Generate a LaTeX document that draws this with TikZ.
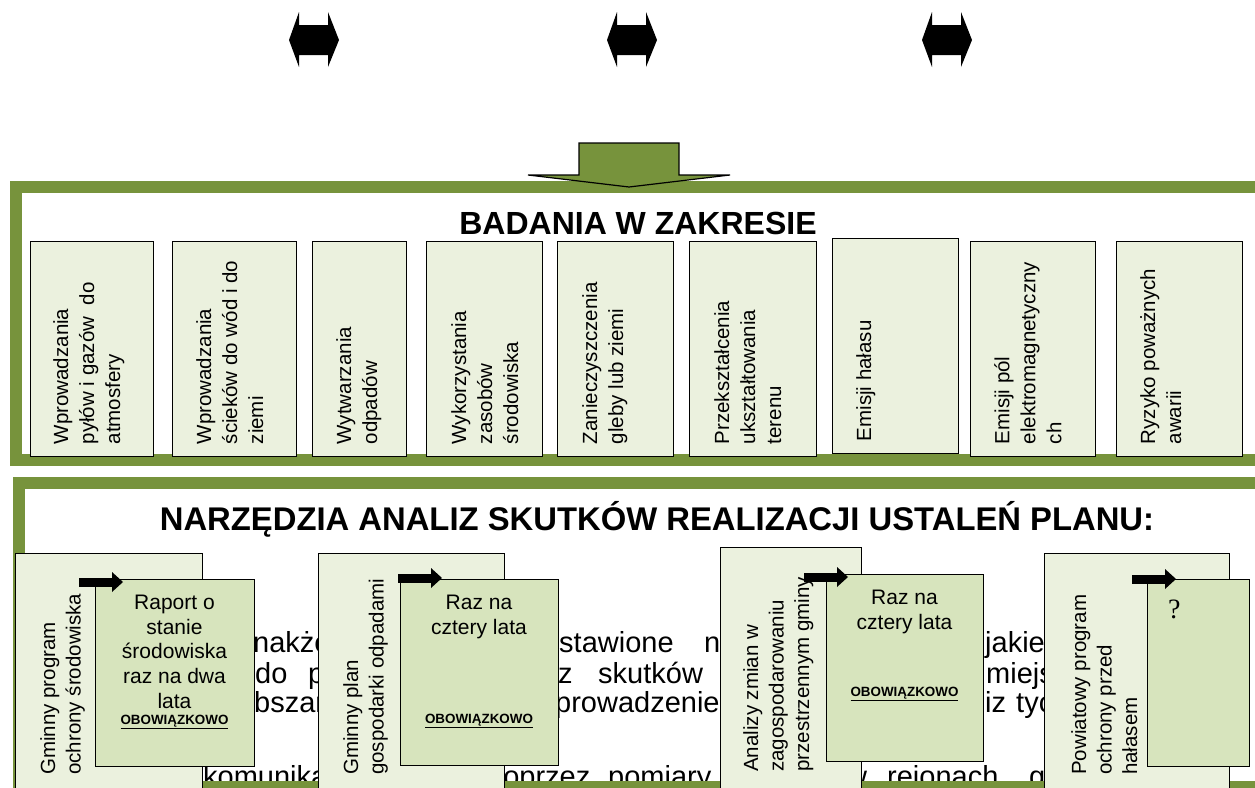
\documentclass[tikz,border=0pt]{standalone}
\usepackage{fontspec}
\setmainfont{Liberation Sans}
\newfontfamily\qfont{Liberation Serif}
\usetikzlibrary{arrows.meta,calc}

\definecolor{olivedark}{HTML}{77933C}
\definecolor{olivepale}{HTML}{EBF1DE}
\definecolor{olivemid}{HTML}{D7E4BD}

\tikzset{
  frame/.style={draw=olivedark, line width=12pt},
  topbox/.style={draw=black, fill=olivepale, line width=1.4pt, anchor=north west, inner sep=0pt},
  toptext/.style={rotate=90, anchor=north west, align=left, inner sep=0pt, font=\fontsize{20.5}{26}\selectfont},
  outerbox/.style={draw=black, fill=olivepale, line width=1.1pt, anchor=north west, inner sep=0pt},
  innerbox/.style={draw=black, fill=olivemid, line width=1.4pt, anchor=north west, inner sep=0pt},
  sidetext/.style={rotate=90, anchor=north west, align=left, inner sep=0pt, font=\fontsize{20.5}{25.5}\selectfont},
  innertext/.style={anchor=north, align=center, inner sep=0pt, font=\fontsize{21}{24.6}\selectfont},
  obowtext/.style={anchor=base, inner sep=0pt, font=\bfseries\fontsize{13.4}{15}\selectfont},
  bodytext/.style={anchor=base west, inner sep=0pt, font=\fontsize{29}{30}\selectfont},
  titletext/.style={anchor=base, inner sep=0pt, font=\bfseries\fontsize{32}{36}\selectfont},
  blockarr/.style={draw=black, line width=9pt, -{Triangle[length=11pt,width=20pt,line width=0pt]}}
}

\newcommand{\dblarrow}[1]{%
  \fill[black] (#1,40) -- ++(10,-28) -- ++(0,13) -- ++(29,0) -- ++(0,-13) -- ++(11,28)
    -- ++(-11,27) -- ++(0,-12) -- ++(-29,0) -- ++(0,12) -- cycle;}

\begin{document}
\begin{tikzpicture}[x=1pt,y=-1pt]
\useasboundingbox (0,0) rectangle (1255,787);
\clip (0,0) rectangle (1255,787);

% arrows at the top
\dblarrow{289}
\dblarrow{607}
\dblarrow{922}

% upper frame
\draw[frame] (16,186.5) rectangle (1275,459.5);
\filldraw[fill=olivedark, draw=black, line width=1.2pt] (579,143) -- (679,143) -- (679,175) -- (730,175) -- (629,187) -- (528,175) -- (579,175) -- cycle;
\node[titletext] (badania) at (638,234) {BADANIA W ZAKRESIE};

\node[topbox, minimum width=123pt, minimum height=215pt] (b1) at (30,241) {};
\node[toptext] (t1) at ([xshift=23pt,yshift=13pt]b1.south west) {Wprowadzania\\pyłów i gazów\ \ do\\atmosfery};
\node[topbox, minimum width=124pt, minimum height=215pt] (b2) at (172,241) {};
\node[toptext] (t2) at ([xshift=24pt,yshift=13pt]b2.south west) {Wprowadzania\\ścieków do wód i do\\ziemi};
\node[topbox, minimum width=94pt, minimum height=215pt] (b3) at (312,241) {};
\node[toptext] (t3) at ([xshift=24pt,yshift=13pt]b3.south west) {Wytwarzania\\odpadów};
\node[topbox, minimum width=116pt, minimum height=215pt] (b4) at (426,241) {};
\node[toptext] (t4) at ([xshift=25pt,yshift=13pt]b4.south west) {Wykorzystania\\zasobów\\środowiska};
\node[topbox, minimum width=116pt, minimum height=215pt] (b5) at (557,241) {};
\node[toptext] (t5) at ([xshift=25pt,yshift=13pt]b5.south west) {Zanieczyszczenia\\gleby lub ziemi};
\node[topbox, minimum width=127pt, minimum height=215pt] (b6) at (689,241) {};
\node[toptext] (t6) at ([xshift=25pt,yshift=13pt]b6.south west) {Przekształcenia\\ukształtowania\\terenu};
\node[topbox, minimum width=126pt, minimum height=215pt] (b7) at (832,238) {};
\node[toptext] (t7) at ([xshift=24pt,yshift=13pt]b7.south west) {Emisji hałasu};
\node[topbox, minimum width=125pt, minimum height=215pt] (b8) at (970,241) {};
\node[toptext] (t8) at ([xshift=24pt,yshift=13pt]b8.south west) {Emisji pól\\elektromagnetyczny\\ch};
\node[topbox, minimum width=126pt, minimum height=215pt] (b9) at (1116,241) {};
\node[toptext] (t9) at ([xshift=24pt,yshift=13pt]b9.south west) {Ryzyko poważnych\\awarii};

% text lying under the lower boxes
\node[bodytext] (w1) at (253,652) {nakże};
\node[bodytext] (w2) at (559,652) {stawione};
\node[bodytext] (w3) at (704,652) {n};
\node[bodytext] (w4) at (985,652) {jakie};
\node[bodytext] (w5) at (255,683) {do};
\node[bodytext] (w6) at (308,683) {p};
\node[bodytext] (w7) at (558,683) {z};
\node[bodytext] (w8) at (598,683) {skutków};
\node[bodytext] (w9) at (986,683) {miejsc};
\node[bodytext] (w10) at (254,712) {bszar};
\node[bodytext] (w11) at (555,712) {prowadzenie};
\node[bodytext] (w12) at (985,712) {iz};
\node[bodytext] (w13) at (1016,712) {tych};
\node[bodytext] (w14) at (203,786) {komunikacji};
\node[bodytext] (w15) at (487,786) {poprzez};
\node[bodytext] (w16) at (608,786) {pomiary};
\node[bodytext] (w17) at (846,786) {w};
\node[bodytext] (w18) at (887,786) {rejonach};
\node[bodytext] (w19) at (1029,786) {g};

% lower frame
\draw[frame] (19,483) rectangle (1275,787);
\node[titletext, font=\bfseries\fontsize{32.8}{36}\selectfont] (narzedzia) at (657,530) {NARZĘDZIA ANALIZ SKUTKÓW REALIZACJI USTALEŃ PLANU:};

\node[outerbox, minimum width=187pt, minimum height=250pt] (g1) at (15,553) {};
\node[sidetext] (s1) at (40,775) {Gminny program\\ochrony środowiska};
\node[innerbox, minimum width=159pt, minimum height=187pt] (r1) at (95,579) {};
\node[innertext] (i1) at (174.5,595) {Raport o\\stanie\\środowiska\\raz na dwa\\lata};
\node[obowtext] (o1) at (174.5,724) {\underline{OBOWIĄZKOWO}};
\coordinate (a1s) at (79,582);
\coordinate (a1e) at (123,582);
\draw[blockarr] (a1s) -- (a1e);

\node[outerbox, minimum width=186pt, minimum height=250pt] (g2) at (318,553) {};
\node[sidetext] (s2) at (343,775) {Gminny plan\\gospodarki odpadami};
\node[innerbox, minimum width=158pt, minimum height=186pt] (r2) at (400,579) {};
\node[innertext] (i2) at (479,595) {Raz na\\cztery lata};
\node[obowtext] (o2) at (479,723) {\underline{OBOWIĄZKOWO}};
\coordinate (a2s) at (398,578);
\coordinate (a2e) at (442,578);
\draw[blockarr] (a2s) -- (a2e);

\node[outerbox, minimum width=141pt, minimum height=256pt] (g3) at (720,547) {};
\node[sidetext] (s3) at (743,772) {Analizy zmian w\\zagospodarowaniu\\przestrzennym gminy};
\node[innerbox, minimum width=157pt, minimum height=187pt] (r3) at (826,574) {};
\node[innertext] (i3) at (904.5,590) {Raz na\\cztery lata};
\node[obowtext] (o3) at (904.5,696) {\underline{OBOWIĄZKOWO}};
\coordinate (a3s) at (804,577);
\coordinate (a3e) at (848,577);
\draw[blockarr] (a3s) -- (a3e);

\node[outerbox, minimum width=185pt, minimum height=250pt] (g4) at (1044,553) {};
\node[sidetext] (s4) at (1071,775) {Powiatowy program\\ochrony przed\\hałasem};
\node[innerbox, minimum width=102pt, minimum height=187pt] (r4) at (1147,579) {};
\node[anchor=base west, inner sep=0pt, font=\qfont\fontsize{28}{30}\selectfont] (q4) at (1168,618) {?};
\coordinate (a4s) at (1132,579);
\coordinate (a4e) at (1176,579);
\draw[blockarr] (a4s) -- (a4e);
\end{tikzpicture}
\end{document}
